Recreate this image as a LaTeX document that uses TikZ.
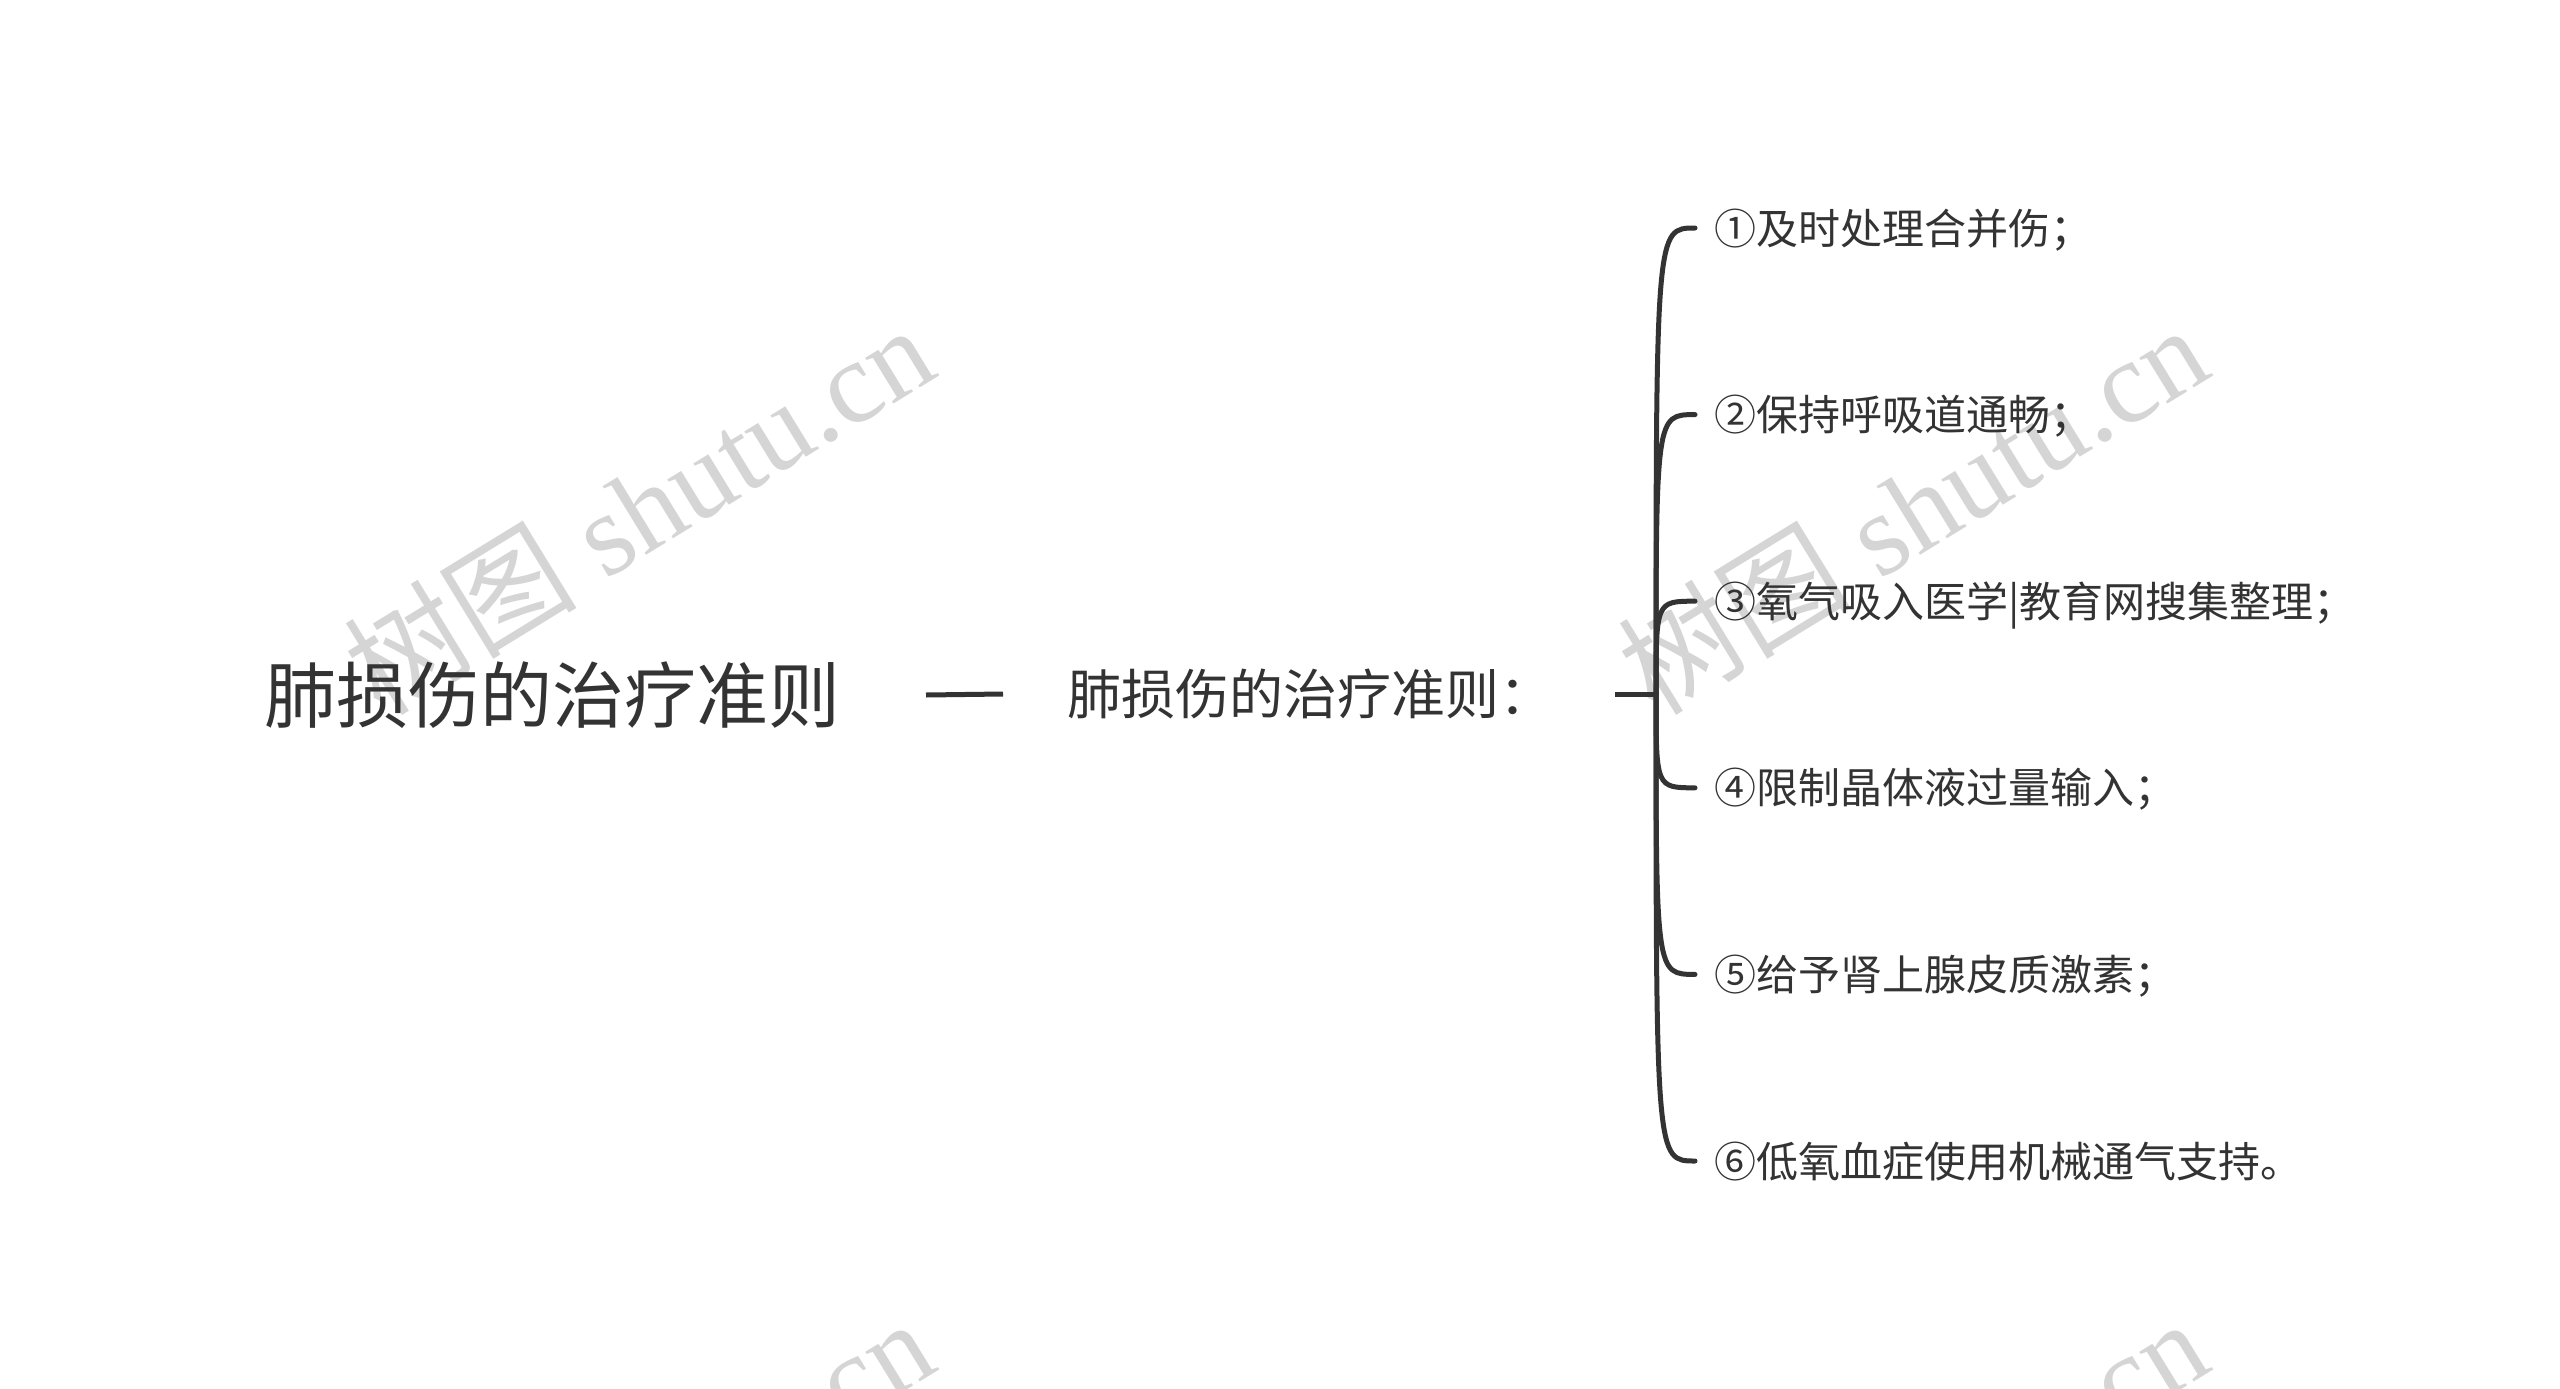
\documentclass[tikz,border=0pt]{standalone}
\usepackage{fontspec}
\usetikzlibrary{calc}
\newfontfamily\cjk{Noto Sans CJK SC}
\newfontfamily\wmlatin{Liberation Serif}
\definecolor{ink}{HTML}{333333}
\definecolor{wm}{HTML}{D5D5D5}
\begin{document}
\begin{tikzpicture}[x=1pt,y=-1pt,
  txt/.style={inner sep=0pt, outer sep=0pt, anchor=west, text=ink},
  rootnode/.style={txt, font=\cjk\fontsize{72}{72}\selectfont, text height=59.8pt, text depth=5pt},
  midnode/.style={txt, font=\cjk\fontsize{54}{54}\selectfont, text height=44.8pt, text depth=3.8pt},
  leafnode/.style={txt, font=\cjk\fontsize{42}{42}\selectfont, text height=34.9pt, text depth=2.9pt},
  wmark/.style={inner sep=0pt, anchor=base west, rotate=31.5, text=wm, font=\wmlatin\fontsize{117}{117}\selectfont},
  link/.style={draw=ink, line width=5pt}
]
\useasboundingbox (0,0) rectangle (2560,1389);
\fill[white] (0,0) rectangle (2560,1389);
\begin{scope}
\clip (0,0) rectangle (2560,1389);
\node[wmark] (wma) at (381,718) {{\cjk 树图} shutu.cn};
\node[wmark] (wmb) at (1655,718) {{\cjk 树图} shutu.cn};
\node[wmark] (wmc) at (381,1712) {{\cjk 树图} shutu.cn};
\node[wmark] (wmd) at (1655,1712) {{\cjk 树图} shutu.cn};
\end{scope}

\node[rootnode] (root) at (264,695) {肺损伤的治疗准则};
\node[midnode] (mid) at (1067,694) {肺损伤的治疗准则：};

\node[leafnode] (l1) at (1714,228) {①及时处理合并伤；};
\node[leafnode] (l2) at (1714,414.6) {②保持呼吸道通畅；};
\node[leafnode] (l3) at (1714,601.2) {③氧气吸入医学|教育网搜集整理；};
\node[leafnode] (l4) at (1714,787.8) {④限制晶体液过量输入；};
\node[leafnode] (l5) at (1714,974.4) {⑤给予肾上腺皮质激素；};
\node[leafnode] (l6) at (1714,1161) {⑥低氧血症使用机械通气支持。};

\coordinate (hub) at (1656,694);

\draw[link] ([xshift=86pt]root.east) -- ([xshift=-64pt]mid.west);
\draw[link] ([xshift=62pt]mid.east) -- (hub);
\foreach \l in {l1,l2,l3,l4,l5,l6}{
  \draw[link, line cap=round] (hub) .. controls (hub |- \l.west) .. ([xshift=-19pt]\l.west);
}
\end{tikzpicture}
\end{document}
